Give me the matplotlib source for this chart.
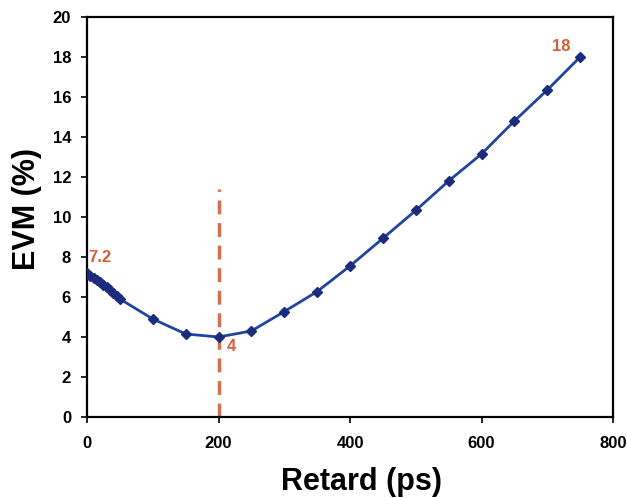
import matplotlib
matplotlib.use("Agg")
import matplotlib.pyplot as plt

plt.rcParams['font.family'] = ['Liberation Sans', 'DejaVu Sans']

retard = [0, 5, 10, 15, 20, 25, 30, 35, 40, 45, 50, 100, 150, 200, 250, 300, 350,
          400, 450, 500, 550, 600, 650, 700, 750]
evm = [7.2, 7.05, 6.95, 6.85, 6.75, 6.6, 6.5, 6.35, 6.2, 6.05, 5.9, 4.9, 4.15, 4.0,
       4.3, 5.27, 6.27, 7.55, 8.93, 10.33, 11.8, 13.15, 14.8, 16.35, 18.0]

xticks = [0, 200, 400, 600, 800]
yticks = [0, 2, 4, 6, 8, 10, 12, 14, 16, 18, 20]

min_x, min_y = 200, 4
vline_top = 11.4
annotations = [("7.2", 0, 7.2), ("4", 200, 4.0), ("18", 750, 18.0)]

fig = plt.figure(figsize=(6.27, 4.98), dpi=100)
ax = fig.add_axes([0.1388, 0.1627, 0.9777 - 0.1388, 0.9659 - 0.1627])

ax.plot([min_x, min_x], [0, vline_top], color='#D2714F', lw=2.5,
        dashes=(4, 2.5), zorder=1)
ax.plot(retard, evm, color='#2244A0', lw=2, zorder=2)
ax.plot(retard, evm, linestyle='none', marker='D', markersize=5.5,
        color='#1B2B7E', zorder=3)

ax.set_xlim(0, 800)
ax.set_ylim(0, 20)
ax.set_xticks(xticks)
ax.set_yticks(yticks)
ax.tick_params(direction='out', length=4, width=1.2, labelsize=12)
ax.tick_params(axis='x', pad=10)
ax.tick_params(axis='y', pad=7.5)
for lab in ax.get_xticklabels() + ax.get_yticklabels():
    lab.set_fontweight('bold')
for s in ax.spines.values():
    s.set_linewidth(1.6)
    s.set_color('black')

ax.set_xlabel("Retard (ps)", fontsize=22, fontweight='bold')
ax.set_ylabel("EVM (%)", fontsize=22, fontweight='bold')
ax.xaxis.set_label_coords(0.521, -0.126)
ax.yaxis.set_label_coords(-0.086, 0.52)

ann_color = '#D2603A'
offsets = {"7.2": (1, 11), "4": (6, -7), "18": (-20, 7.5)}
for txt, x, y in annotations:
    dx, dy = offsets[txt]
    ax.annotate(txt, (x, y), xytext=(dx, dy), textcoords='offset points',
                color=ann_color, fontsize=12, fontweight='bold',
                ha='left', va='center', zorder=4)

fig.savefig("out.png", dpi=100)
